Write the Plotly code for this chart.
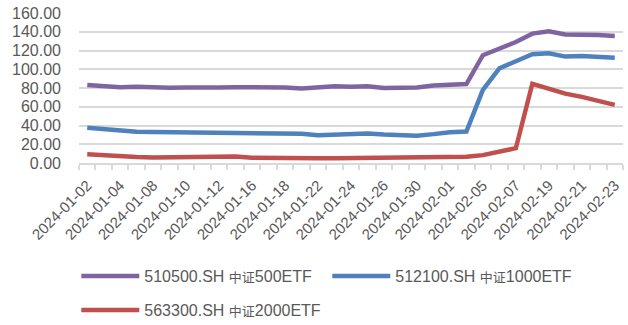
import plotly.graph_objects as go

# Trading days shown on the category axis
dates = [
    "2024-01-02", "2024-01-03", "2024-01-04", "2024-01-05", "2024-01-08",
    "2024-01-09", "2024-01-10", "2024-01-11", "2024-01-12", "2024-01-15",
    "2024-01-16", "2024-01-17", "2024-01-18", "2024-01-19", "2024-01-22",
    "2024-01-23", "2024-01-24", "2024-01-25", "2024-01-26", "2024-01-29",
    "2024-01-30", "2024-01-31", "2024-02-01", "2024-02-02", "2024-02-05",
    "2024-02-06", "2024-02-07", "2024-02-08", "2024-02-19", "2024-02-20",
    "2024-02-21", "2024-02-22", "2024-02-23",
]

etf_500 = [83.2, 82.5, 80.9, 81.4, 80.3, 80.2, 80.6, 81.2, 80.6, 80.9, 81.0,
           80.1, 80.6, 79.5, 80.5, 81.8, 81.3, 81.9, 80.1, 80.0, 80.6, 82.6,
           84.0, 84.2, 115.0, 122.0, 129.0, 138.0, 140.5, 137.0, 137.0, 136.5,
           135.6]
etf_1000 = [37.5, 35.8, 34.1, 33.4, 33.0, 32.7, 32.7, 33.0, 33.0, 32.4, 32.0,
            31.6, 31.5, 31.2, 29.6, 30.0, 30.6, 31.4, 30.3, 29.5, 29.1, 30.8,
            32.9, 33.6, 78.0, 101.0, 109.0, 116.0, 117.0, 113.5, 114.2, 113.5,
            112.3]
etf_2000 = [9.4, 8.1, 6.8, 6.4, 6.0, 6.0, 6.3, 6.7, 7.0, 7.0, 5.5, 5.1, 5.3,
            5.3, 5.0, 5.2, 5.4, 5.3, 5.2, 5.3, 5.4, 5.6, 6.3, 6.7, 8.4, 11.5,
            15.8, 84.5, 79.0, 74.0, 70.5, 66.0, 62.0]

series_names = [
    "510500.SH 中证500ETF",
    "512100.SH 中证1000ETF",
    "563300.SH 中证2000ETF",
]
series_colors = ["#8064A2", "#4F81BD", "#C0504D"]

y_ticks = [0, 20, 40, 60, 80, 100, 120, 140, 160]

FONT = "Liberation Sans, Arial, Noto Sans CJK SC, sans-serif"
TEXT = "#595959"

idx = list(range(len(dates)))


def label(name):
    code, rest = name.split(" ")
    cjk, tail = rest[:2], rest[2:]
    return f"{code} <span style='font-size:13px'>{cjk}</span>{tail}"


fig = go.Figure()
for values, name, color, leg in zip(
    [etf_500, etf_1000, etf_2000], series_names, series_colors,
    ["legend", "legend", "legend2"],
):
    fig.add_trace(go.Scatter(
        x=idx, y=values, mode="lines", name=label(name),
        line=dict(color=color, width=4.5), legend=leg,
    ))

legend_common = dict(
    orientation="h", xref="container", yref="container",
    xanchor="left", yanchor="middle", itemwidth=58,
    font=dict(family=FONT, size=16, color=TEXT), bgcolor="rgba(0,0,0,0)",
)

fig.update_layout(
    width=628, height=325,
    margin=dict(l=79, r=5, t=13, b=162, autoexpand=False),
    paper_bgcolor="white", plot_bgcolor="white",
    font=dict(family=FONT, size=16, color=TEXT),
    legend=dict(legend_common, x=0.1215, y=0.1508,
                entrywidth=178, entrywidthmode="pixels"),
    legend2=dict(legend_common, x=0.1215, y=0.0462),
)

fig.update_xaxes(
    range=[-0.5, len(dates) - 0.5], automargin=False,
    tickmode="array", tickvals=idx[::2], ticktext=dates[::2],
    tickangle=-45, ticks="", ticklabelstandoff=6,
    tickfont=dict(family=FONT, size=15, color=TEXT),
    showgrid=False, zeroline=False,
    showline=True, linecolor="#D9D9D9", linewidth=1.5,
    minor=dict(tickmode="array", tickvals=[i - 0.5 for i in idx] + [len(dates) - 0.5],
               ticks="outside", ticklen=5, tickcolor="#D9D9D9", tickwidth=1.5,
               showgrid=False),
)
fig.update_yaxes(
    range=[0, 160], tickmode="array", tickvals=y_ticks, tickformat=".2f",
    ticks="", ticklabelstandoff=17, automargin=False,
    tickfont=dict(family=FONT, size=16, color=TEXT),
    showgrid=True, gridcolor="#D9D9D9", gridwidth=1.5,
    zeroline=False, showline=False,
)

fig.write_html("out.html")
